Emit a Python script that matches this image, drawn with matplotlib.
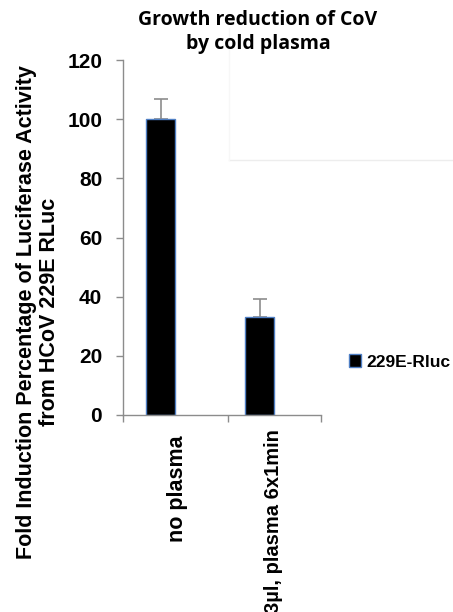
import matplotlib.pyplot as plt
from matplotlib.lines import Line2D
from matplotlib.transforms import ScaledTranslation

# Data
categories = ['no plasma', '3\u00b5l, plasma 6x1min']
values = [100, 33]
errors = [6.7, 6.2]
series_name = '229E-Rluc'
yticks = [0, 20, 40, 60, 80, 100, 120]

plt.rcParams['font.family'] = ['Liberation Sans', 'DejaVu Sans']

fig = plt.figure(figsize=(4.53, 6.12), dpi=100)
ax = fig.add_axes([123 / 453, 1 - 415 / 612, 198 / 453, 355 / 612])

x = list(range(len(categories)))
ax.bar(x, values, width=0.29, color='black', edgecolor='#4f7fc4', linewidth=1.0,
       label=series_name, zorder=2)
ax.errorbar(x, values, yerr=[[0] * len(errors), errors], fmt='none',
            ecolor='#8c8c8c', elinewidth=1.2, capsize=5, capthick=1.2, zorder=1)

ax.set_xlim(-0.38, 1.62)
ax.set_ylim(0, 120)
ax.set_yticks(yticks)
ax.set_yticklabels([str(t) for t in yticks], fontsize=15, fontweight='bold')

ax.set_xticks(x)
ax.set_xticklabels(categories, rotation=90, fontsize=15.5, fontweight='bold',
                   va='top', ha='center')
ax.tick_params(axis='x', which='major', length=0, pad=15)
ax.set_xticks([-0.38, 0.68, 1.62], minor=True)
ax.tick_params(axis='x', which='minor', length=5, color='#8c8c8c', width=1)
ax.tick_params(axis='y', length=5, color='#8c8c8c', width=1, pad=10)
# labels sit a bit right of the bars, the long one a bit higher and smaller
shifts = [(17, 0), (14, 7)]
for lbl, (dx, dy) in zip(ax.get_xticklabels(), shifts):
    lbl.set_transform(lbl.get_transform() +
                      ScaledTranslation(dx / 100, dy / 100, fig.dpi_scale_trans))
ax.get_xticklabels()[1].set_fontsize(14.5)

for side in ['top', 'right']:
    ax.spines[side].set_visible(False)
for side in ['left', 'bottom']:
    ax.spines[side].set_color('#8c8c8c')
    ax.spines[side].set_linewidth(1)

ax.set_ylabel('Fold Induction Percentage of Luciferase Activity\nfrom HCoV 229E RLuc',
              fontsize=15.5, fontweight='bold', linespacing=1.1)
ax.yaxis.set_label_coords(-0.32, 0.29)

fig.text(258 / 453, 1 - 10 / 612, 'Growth reduction of CoV\nby cold plasma',
         family=['Open Sans', 'DejaVu Sans'], fontweight='bold', fontsize=14,
         ha='center', va='top', linespacing=1.3)

# legend
fig.legend(loc='center left', bbox_to_anchor=(333 / 453, 1 - 362 / 612),
           frameon=False, prop={'size': 12.5, 'weight': 'bold'},
           handlelength=0.7, handleheight=0.7, handletextpad=0.3)

# faint plot-area border remnants
fig.add_artist(Line2D([229 / 453, 1], [1 - 160 / 612] * 2, color='#ededed', lw=1))
fig.add_artist(Line2D([229 / 453] * 2, [1 - 28 / 612, 1 - 160 / 612], color='#f7f7f7', lw=1))

fig.savefig('out.png', dpi=100)
